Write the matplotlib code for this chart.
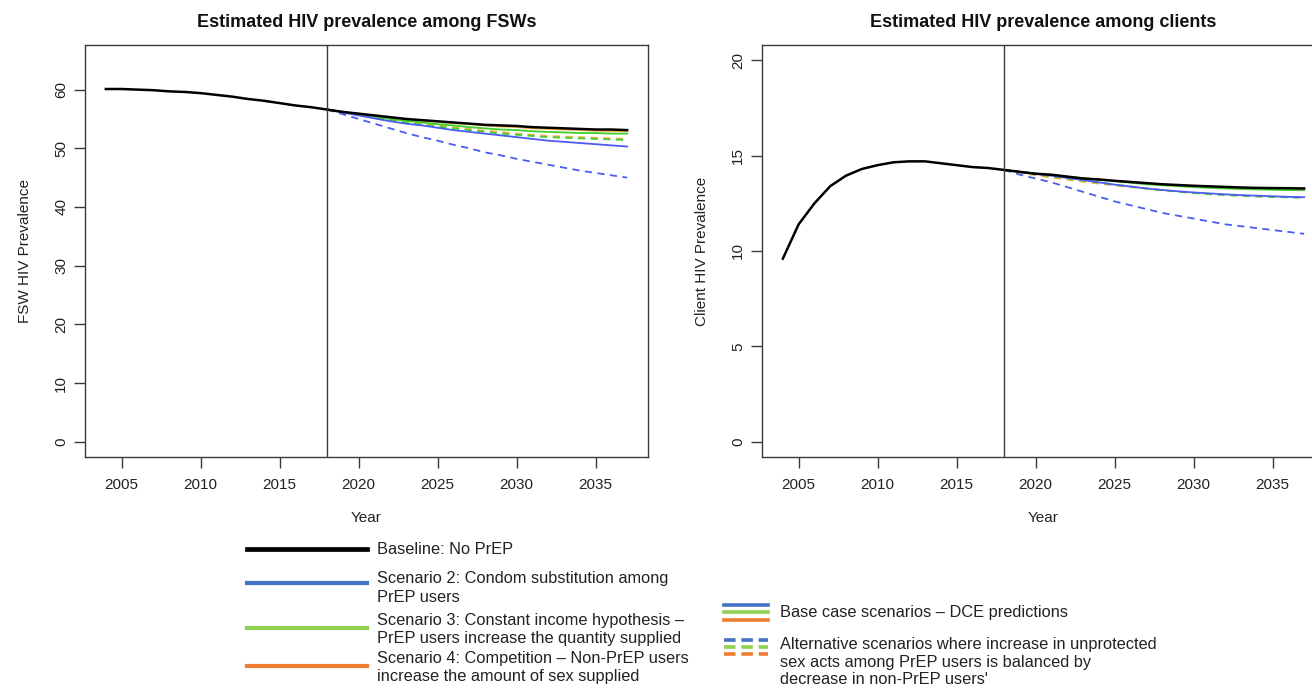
import matplotlib
matplotlib.use("Agg")
import matplotlib.pyplot as plt
from matplotlib.lines import Line2D

plt.rcParams['font.family'] = ['Liberation Sans', 'DejaVu Sans']

# ---------------- data ----------------
years_all = list(range(2004, 2038))
years_proj = list(range(2018, 2038))
intervention_year = 2018

fsw_baseline = [60.1, 60.1, 60.0, 59.9, 59.7, 59.6, 59.4, 59.1, 58.8, 58.4,
                58.1, 57.7, 57.3, 57.0, 56.6, 56.2, 55.9, 55.6, 55.3, 55.0,
                54.8, 54.6, 54.4, 54.2, 54.0, 53.9, 53.8, 53.6, 53.5, 53.4,
                53.3, 53.2, 53.2, 53.1]
fsw_s2 = [56.6, 56.1, 55.6, 55.1, 54.6, 54.2, 53.9, 53.5, 53.1, 52.8,
          52.5, 52.2, 51.9, 51.6, 51.3, 51.1, 50.9, 50.7, 50.5, 50.3]
fsw_s2_alt = [56.6, 55.8, 55.0, 54.2, 53.4, 52.6, 51.9, 51.3, 50.6, 50.0,
              49.3, 48.8, 48.2, 47.7, 47.2, 46.7, 46.2, 45.8, 45.4, 45.0]
fsw_s3 = [56.6, 56.2, 55.8, 55.4, 55.0, 54.7, 54.4, 54.1, 53.9, 53.6,
          53.4, 53.2, 53.1, 52.9, 52.8, 52.7, 52.6, 52.6, 52.5, 52.5]
fsw_s3_alt = [56.6, 56.1, 55.7, 55.2, 54.8, 54.4, 54.0, 53.7, 53.4, 53.1,
              52.8, 52.5, 52.3, 52.1, 51.9, 51.8, 51.7, 51.6, 51.5, 51.4]
fsw_s4 = [56.6, 56.2, 55.9, 55.5, 55.2, 54.9, 54.7, 54.5, 54.3, 54.1,
          53.9, 53.7, 53.6, 53.4, 53.3, 53.2, 53.1, 53.0, 52.9, 52.9]
fsw_s4_alt = [56.6, 56.1, 55.7, 55.3, 54.9, 54.5, 54.2, 53.9, 53.6, 53.3,
              53.0, 52.8, 52.5, 52.3, 52.1, 52.0, 51.9, 51.8, 51.7, 51.6]

cl_baseline = [9.6, 11.4, 12.5, 13.4, 13.95, 14.3, 14.5, 14.65, 14.7, 14.7,
               14.6, 14.5, 14.4, 14.35, 14.25, 14.15, 14.05, 14.0, 13.9, 13.8,
               13.75, 13.68, 13.62, 13.56, 13.5, 13.46, 13.42, 13.39, 13.36, 13.33,
               13.31, 13.3, 13.29, 13.28]
cl_s2 = [14.25, 14.15, 14.05, 13.95, 13.83, 13.72, 13.6, 13.48, 13.38, 13.28,
         13.2, 13.13, 13.07, 13.02, 12.97, 12.93, 12.9, 12.87, 12.84, 12.82]
cl_s2_alt = [14.25, 14.0, 13.8, 13.6, 13.35, 13.1, 12.85, 12.6, 12.4, 12.2,
             12.0, 11.85, 11.7, 11.55, 11.4, 11.3, 11.2, 11.1, 11.0, 10.9]
cl_s3 = [14.25, 14.15, 14.06, 13.98, 13.9, 13.82, 13.74, 13.66, 13.58, 13.5,
         13.45, 13.4, 13.35, 13.31, 13.28, 13.25, 13.23, 13.21, 13.2, 13.19]
cl_s3_alt = [14.25, 14.14, 14.03, 13.92, 13.81, 13.7, 13.59, 13.48, 13.38, 13.28,
             13.19, 13.11, 13.04, 12.98, 12.93, 12.89, 12.86, 12.83, 12.81, 12.8]
cl_s4 = [14.25, 14.15, 14.06, 13.98, 13.9, 13.82, 13.75, 13.68, 13.6, 13.54,
         13.48, 13.43, 13.38, 13.34, 13.31, 13.28, 13.26, 13.24, 13.23, 13.22]
cl_s4_alt = [14.25, 14.1, 13.97, 13.85, 13.74, 13.63, 13.53, 13.44, 13.35, 13.27,
             13.19, 13.12, 13.05, 13.0, 12.95, 12.91, 12.87, 12.84, 12.82, 12.8]

x_ticks = [2005, 2010, 2015, 2020, 2025, 2030, 2035]
fsw_yticks = [0, 10, 20, 30, 40, 50, 60]
cl_yticks = [0, 5, 10, 15, 20]

legend1_labels = ["Baseline: No PrEP",
                  "Scenario 2: Condom substitution among\nPrEP users",
                  "Scenario 3: Constant income hypothesis \u2013\nPrEP users increase the quantity supplied",
                  "Scenario 4: Competition \u2013 Non-PrEP users\nincrease the amount of sex supplied"]
legend2_labels = ["Base case scenarios \u2013 DCE predictions",
                  "Alternative scenarios where increase in unprotected\nsex acts among PrEP users is balanced by\ndecrease in non-PrEP users'"]

# ---------------- style ----------------
C_BLUE = "#4d5cf0"
C_GREEN = "#3fcf2a"
C_ORANGE = "#f6b04a"
L_BLACK = "#000000"
L_BLUE = "#4472C4"
L_GREEN = "#92D050"
L_ORANGE = "#ED7D31"
SPINE = "#3a3a3a"
TXT = "#222222"

W, H = 1312, 693
fig = plt.figure(figsize=(W / 100, H / 100), dpi=100)


def fx(px):
    return px / W


def fy(py):
    return 1 - py / H


ax_top, ax_bot = 45, 457
ax_w = 563
axL = fig.add_axes([fx(85), fy(ax_bot), ax_w / W, (ax_bot - ax_top) / H])
axR = fig.add_axes([fx(762), fy(ax_bot), ax_w / W, (ax_bot - ax_top) / H])


def draw_panel(ax, base, s2, s2a, s3, s3a, s4, s4a, ylim, yticks, title, ylabel):
    dash = (0, (4, 3))
    lw = 1.3
    ax.plot(years_proj, s4a, color=C_ORANGE, lw=lw, ls=dash)
    ax.plot(years_proj, s3a, color=C_GREEN, lw=lw, ls=dash)
    ax.plot(years_proj, s2a, color=C_BLUE, lw=lw, ls=dash)
    ax.plot(years_proj, s4, color=C_ORANGE, lw=lw)
    ax.plot(years_proj, s3, color=C_GREEN, lw=lw)
    ax.plot(years_proj, s2, color=C_BLUE, lw=lw)
    ax.plot(years_all, base, color="black", lw=1.8)
    ax.axvline(intervention_year, color=SPINE, lw=1.0)
    ax.set_xlim(2002.68, 2038.32)
    ax.set_ylim(*ylim)
    ax.set_xticks(x_ticks)
    ax.set_yticks(yticks)
    ax.set_yticklabels([str(t) for t in yticks], rotation=90, va="center")
    ax.tick_params(axis="both", direction="out", length=8, width=1.0,
                   color=SPINE, labelsize=11, labelcolor=TXT)
    ax.tick_params(axis="x", pad=7)
    ax.tick_params(axis="y", pad=4)
    for s in ax.spines.values():
        s.set_color(SPINE)
        s.set_linewidth(1.0)
    ax.set_title(title, fontsize=13, fontweight="bold", pad=13, color="#111111")
    ax.set_xlabel("Year", fontsize=11, labelpad=14, color=TXT)
    ax.set_ylabel(ylabel, fontsize=11, labelpad=16, color=TXT)


draw_panel(axL, fsw_baseline, fsw_s2, fsw_s2_alt, fsw_s3, fsw_s3_alt, fsw_s4, fsw_s4_alt,
           (-2.6, 67.6), fsw_yticks, "Estimated HIV prevalence among FSWs", "FSW HIV Prevalence")
draw_panel(axR, cl_baseline, cl_s2, cl_s2_alt, cl_s3, cl_s3_alt, cl_s4, cl_s4_alt,
           (-0.8, 20.8), cl_yticks, "Estimated HIV prevalence among clients", "Client HIV Prevalence")

# ---------------- custom legends (figure pixel space) ----------------
lg = fig.add_axes([0, 0, 1, 1])
lg.set_xlim(0, W)
lg.set_ylim(H, 0)
lg.axis("off")

LEG_FS = 11.8
leg1_colors = [L_BLACK, L_BLUE, L_GREEN, L_ORANGE]
leg1_line_y = [549, 583, 628, 666]
leg1_text_y = [550, 588, 629, 668]
for c, ly, ty, lab in zip(leg1_colors, leg1_line_y, leg1_text_y, legend1_labels):
    lg.add_line(Line2D([247, 367], [ly, ly], color=c, lw=3.0 if c != L_BLACK else 3.4))
    lg.text(377, ty, lab, fontsize=LEG_FS, va="center", ha="left",
            color=TXT, linespacing=1.25)

for c, yy, yd in zip([L_BLUE, L_GREEN, L_ORANGE], [605, 612, 620], [640, 647, 654]):
    lg.add_line(Line2D([724, 768], [yy, yy], color=c, lw=2.6))
    lg.add_line(Line2D([724, 768], [yd, yd], color=c, lw=2.6, ls=(0, (3.2, 1.6))))
lg.text(780, 612, legend2_labels[0], fontsize=LEG_FS, va="center", ha="left", color=TXT)
lg.text(780, 662, legend2_labels[1], fontsize=LEG_FS, va="center", ha="left",
        color=TXT, linespacing=1.25)

fig.savefig("out.png", dpi=100)
